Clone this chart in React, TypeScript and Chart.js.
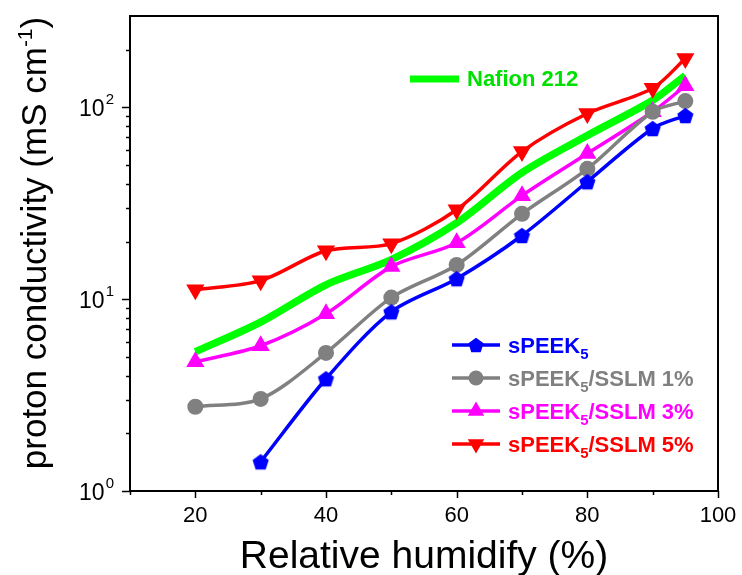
import React, { useEffect, useRef } from 'react';
import { Chart, registerables } from 'chart.js';

Chart.register(...registerables);

const rh = [20, 30, 40, 50, 60, 70, 80, 90, 95];
const speek5 = [null, 1.42, 3.85, 8.6, 12.8, 21.5, 41, 77.7, 90.8];
const sslm1 = [2.75, 3.02, 5.25, 10.2, 15.1, 27.9, 47.9, 95, 108];
const sslm3 = [4.72, 5.72, 8.4, 14.8, 19.7, 34.7, 57.5, 95, 130];
const sslm5 = [11.2, 12.5, 17.9, 19.5, 29.3, 58.9, 93, 126, 180];
const nafion = [5.32, 7.6, 11.9, 16.1, 25, 45.7, 71.4, 109, 147];

const xTickValues = [10, 20, 30, 40, 50, 60, 70, 80, 90, 100];
const xTickLabels = [20, 40, 60, 80, 100];
const yMajorTicks = [1, 10, 100];
const yMinorTicks = [2, 3, 4, 5, 6, 7, 8, 9, 20, 30, 40, 50, 60, 70, 80, 90, 200];
const yTickExponents = ['0', '1', '2'];

const FONT = '"Liberation Sans", Arial, Helvetica, sans-serif';

const BLUE = '#0000ff';
const GRAY = '#808080';
const MAGENTA = '#ff00ff';
const RED = '#ff0000';
const GREEN = '#00ff00';

function toPoints(vals: (number | null)[]) {
  const out: { x: number; y: number }[] = [];
  vals.forEach((v, i) => {
    if (v !== null) out.push({ x: rh[i], y: v });
  });
  return out;
}

function makePentagon(r: number, color: string) {
  const size = Math.ceil(r * 2 + 2);
  const c = document.createElement('canvas');
  c.width = size;
  c.height = size;
  const ctx = c.getContext('2d')!;
  ctx.fillStyle = color;
  ctx.beginPath();
  for (let i = 0; i < 5; i++) {
    const a = -Math.PI / 2 + (i * 2 * Math.PI) / 5;
    const x = size / 2 + r * Math.cos(a);
    const y = size / 2 + r * Math.sin(a) + r * 0.1;
    if (i === 0) ctx.moveTo(x, y);
    else ctx.lineTo(x, y);
  }
  ctx.closePath();
  ctx.fill();
  return c;
}

function drawTriangle(ctx: CanvasRenderingContext2D, x: number, y: number, r: number, down: boolean) {
  ctx.beginPath();
  for (let i = 0; i < 3; i++) {
    const a = (i * 2 * Math.PI) / 3 + (down ? Math.PI : 0);
    const px = x + Math.sin(a) * r;
    const py = y - Math.cos(a) * r;
    if (i === 0) ctx.moveTo(px, py);
    else ctx.lineTo(px, py);
  }
  ctx.closePath();
  ctx.fill();
}

export default function App() {
  const ref = useRef<HTMLCanvasElement>(null);

  useEffect(() => {
    document.body.style.margin = '0';
    const canvas = ref.current!;
    const pentagon = makePentagon(8.5, BLUE);
    const legendPentagon = makePentagon(8, BLUE);

    const overlay = {
      id: 'overlay',
      afterDraw(chart: any) {
        const ctx: CanvasRenderingContext2D = chart.ctx;
        const { left, right, top, bottom } = chart.chartArea;
        const xs = chart.scales.x;
        const ys = chart.scales.y;
        ctx.save();
        // frame
        ctx.strokeStyle = '#000';
        ctx.lineWidth = 2;
        ctx.strokeRect(left, top, right - left, bottom - top);
        // x ticks
        ctx.lineWidth = 1.5;
        xTickValues.forEach((v) => {
          const px = Math.round(xs.getPixelForValue(v)) + 0.5;
          const len = v % 20 === 0 ? 7 : 4;
          ctx.beginPath();
          ctx.moveTo(px, bottom);
          ctx.lineTo(px, bottom + len);
          ctx.stroke();
        });
        // y ticks
        yMajorTicks.forEach((v) => {
          const py = Math.round(ys.getPixelForValue(v)) + 0.5;
          ctx.beginPath();
          ctx.moveTo(left, py);
          ctx.lineTo(left - 8, py);
          ctx.stroke();
        });
        yMinorTicks.forEach((v) => {
          const py = Math.round(ys.getPixelForValue(v)) + 0.5;
          ctx.beginPath();
          ctx.moveTo(left, py);
          ctx.lineTo(left - 4, py);
          ctx.stroke();
        });
        // x tick labels
        ctx.fillStyle = '#000';
        ctx.font = `22px ${FONT}`;
        ctx.textAlign = 'center';
        ctx.textBaseline = 'alphabetic';
        xTickLabels.forEach((v) => {
          ctx.fillText(String(v), xs.getPixelForValue(v), bottom + 31);
        });
        // y tick labels with superscripts
        yMajorTicks.forEach((v, i) => {
          const py = ys.getPixelForValue(v);
          ctx.font = `15px ${FONT}`;
          const ew = ctx.measureText(yTickExponents[i]).width;
          const xEnd = left - 16;
          ctx.textAlign = 'right';
          ctx.fillText(yTickExponents[i], xEnd, py - 3);
          ctx.font = `23px ${FONT}`;
          ctx.fillText('10', xEnd - ew - 1, py + 9);
        });
        // x title
        ctx.font = `39px ${FONT}`;
        ctx.textAlign = 'center';
        ctx.fillText('Relative humidify (%)', (left + right) / 2, 568);
        // y title
        ctx.save();
        ctx.translate(46, 243);
        ctx.rotate(-Math.PI / 2);
        const t1 = 'proton conductivity (mS cm';
        const t2 = '-1';
        const t3 = ')';
        ctx.font = `35px ${FONT}`;
        const w1 = ctx.measureText(t1).width;
        const w3 = ctx.measureText(t3).width;
        ctx.font = `21px ${FONT}`;
        const w2 = ctx.measureText(t2).width;
        const total = w1 + w2 + w3;
        let cx = -total / 2;
        ctx.textAlign = 'left';
        ctx.font = `35px ${FONT}`;
        ctx.fillText(t1, cx, 0);
        cx += w1;
        ctx.font = `21px ${FONT}`;
        ctx.fillText(t2, cx, -14);
        cx += w2;
        ctx.font = `35px ${FONT}`;
        ctx.fillText(t3, cx, 0);
        ctx.restore();

        // Nafion legend
        ctx.strokeStyle = GREEN;
        ctx.lineWidth = 7;
        ctx.beginPath();
        ctx.moveTo(410, 79);
        ctx.lineTo(459, 79);
        ctx.stroke();
        ctx.fillStyle = '#00e000';
        ctx.font = `bold 22px ${FONT}`;
        ctx.textAlign = 'left';
        ctx.textBaseline = 'middle';
        ctx.fillText('Nafion 212', 467, 80);

        // other legend
        const items = [
          { color: BLUE, kind: 'pent', tail: '' },
          { color: GRAY, kind: 'circle', tail: '/SSLM 1%' },
          { color: MAGENTA, kind: 'tri', tail: '/SSLM 3%' },
          { color: RED, kind: 'down', tail: '/SSLM 5%' },
        ];
        const rows = [345, 378, 411, 444];
        ctx.textBaseline = 'alphabetic';
        items.forEach((it, i) => {
          const y = rows[i];
          ctx.strokeStyle = it.color;
          ctx.fillStyle = it.color;
          ctx.lineWidth = 3.5;
          ctx.beginPath();
          ctx.moveTo(452, y);
          ctx.lineTo(500, y);
          ctx.stroke();
          if (it.kind === 'pent') {
            ctx.drawImage(legendPentagon, 476 - legendPentagon.width / 2, y - legendPentagon.height / 2);
          } else if (it.kind === 'circle') {
            ctx.beginPath();
            ctx.arc(476, y, 7.5, 0, Math.PI * 2);
            ctx.fill();
          } else if (it.kind === 'tri') {
            drawTriangle(ctx, 476, y, 9.5, false);
          } else {
            drawTriangle(ctx, 476, y, 9.5, true);
          }
          let tx = 508;
          ctx.font = `bold 22px ${FONT}`;
          ctx.fillText('sPEEK', tx, y + 8);
          tx += ctx.measureText('sPEEK').width;
          ctx.font = `bold 15px ${FONT}`;
          ctx.fillText('5', tx, y + 14);
          tx += ctx.measureText('5').width;
          if (it.tail) {
            ctx.font = `bold 22px ${FONT}`;
            ctx.fillText(it.tail, tx, y + 8);
          }
        });
        ctx.restore();
      },
    };

    const chart = new Chart(canvas, {
      type: 'line',
      data: {
        datasets: [
          {
            label: 'sPEEK5',
            data: toPoints(speek5),
            borderColor: BLUE,
            backgroundColor: BLUE,
            borderWidth: 3.5,
            pointStyle: pentagon as any,
            pointRadius: 8.5,
            tension: 0.3,
          },
          {
            label: 'sPEEK5/SSLM 1%',
            data: toPoints(sslm1),
            borderColor: GRAY,
            backgroundColor: GRAY,
            borderWidth: 3.5,
            pointStyle: 'circle',
            pointRadius: 8,
            pointBorderWidth: 0,
            tension: 0.3,
          },
          {
            label: 'sPEEK5/SSLM 3%',
            data: toPoints(sslm3),
            borderColor: MAGENTA,
            backgroundColor: MAGENTA,
            borderWidth: 3.5,
            pointStyle: 'triangle',
            pointRadius: 10.5,
            pointBorderWidth: 0,
            tension: 0.3,
          },
          {
            label: 'sPEEK5/SSLM 5%',
            data: toPoints(sslm5),
            borderColor: RED,
            backgroundColor: RED,
            borderWidth: 3.5,
            pointStyle: 'triangle',
            pointRotation: 180,
            pointRadius: 10.5,
            pointBorderWidth: 0,
            tension: 0.3,
          },
          {
            label: 'Nafion 212',
            data: toPoints(nafion),
            borderColor: GREEN,
            backgroundColor: GREEN,
            borderWidth: 7.5,
            pointRadius: 0,
            tension: 0.3,
          },
        ],
      },
      options: {
        animation: false,
        responsive: false,
        maintainAspectRatio: false,
        layout: { padding: { top: 16, right: 24, left: 0, bottom: 0 } },
        plugins: { legend: { display: false }, tooltip: { enabled: false } },
        scales: {
          x: {
            type: 'linear',
            min: 10,
            max: 100,
            grid: { display: false },
            border: { display: false },
            ticks: { display: false, stepSize: 10 },
            afterFit: (s: any) => {
              s.height = 84;
            },
          },
          y: {
            type: 'logarithmic',
            min: 1,
            max: 300,
            grid: { display: false },
            border: { display: false },
            ticks: { display: false },
            afterFit: (s: any) => {
              s.width = 130;
            },
          },
        },
      },
      plugins: [overlay],
    });

    return () => chart.destroy();
  }, []);

  return (
    <div style={{ width: 742, height: 575 }}>
      <canvas ref={ref} width={742} height={575} style={{ display: 'block' }} />
    </div>
  );
}
